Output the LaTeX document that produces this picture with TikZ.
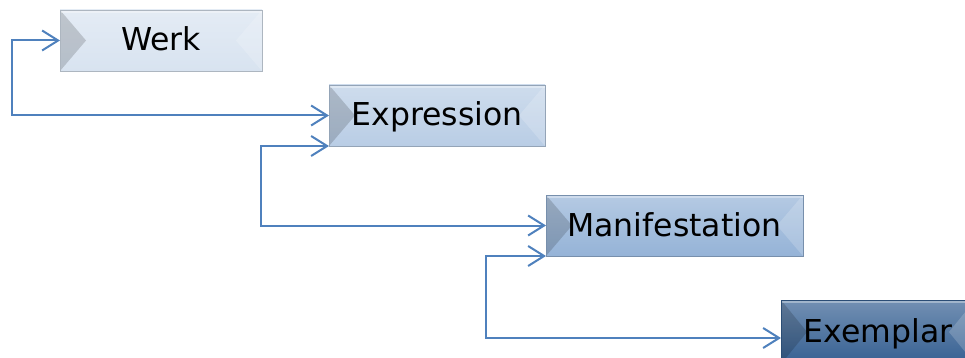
\documentclass[tikz,border=0pt]{standalone}
\usepackage{fontspec}
\newfontfamily\boxfont{DejaVu Sans}
\usetikzlibrary{arrows.meta}
\definecolor{cwerk}{HTML}{D8E3F0}
\definecolor{cexpr}{HTML}{B9CDE5}
\definecolor{cman}{HTML}{95B3D7}
\definecolor{cex}{HTML}{366092}
\definecolor{cline}{HTML}{4F81BD}
\tikzset{
  bev/.style 2 args={rectangle, minimum width=#1, minimum height=61pt, inner sep=0pt, outer sep=0pt,
    font=\boxfont\fontsize{31.5}{36}\selectfont, text=black, text height=21pt, text depth=0pt,
    draw=#2!80!black, line width=0.4pt,
    path picture={
      \fill[top color=#2!70!white, bottom color=#2] (path picture bounding box.north west) rectangle (path picture bounding box.south east);
      \fill[black, opacity=0.16] (path picture bounding box.north west) -- ([xshift=26pt]path picture bounding box.west) -- (path picture bounding box.south west) -- cycle;
      \fill[white, opacity=0.18] (path picture bounding box.north east) -- ([xshift=-26pt]path picture bounding box.east) -- (path picture bounding box.south east) -- cycle;
      \fill[white, opacity=0.35] (path picture bounding box.north west) rectangle ([yshift=-3pt]path picture bounding box.north east);
    }},
  conn/.style={draw=cline, line width=2pt, {Straight Barb[length=16pt,width=20pt]}-{Straight Barb[length=16pt,width=20pt]}}
}
\begin{document}
\begin{tikzpicture}[x=1pt,y=-1pt]
\useasboundingbox (0,0) rectangle (965,358);
\clip (0,0) rectangle (965,358);
\node[bev={202pt}{cwerk}] (werk) at (161,40.5) {Werk};
\node[bev={216pt}{cexpr}] (expr) at (437,115.5) {Expression};
\node[bev={257pt}{cman}] (man) at (674.5,225.5) {Manifestation};
\node[bev={194pt}{cex}, minimum height=64pt] (ex) at (878,332) {Exemplar};
\draw[conn] (werk.west) -- ++(-48,0) |- (expr.west);
\draw[conn] (expr.south west) -- ++(-68,0) |- (man.west);
\draw[conn] (man.south west) -- ++(-60,0) |- ([yshift=-6pt]ex.west);
\end{tikzpicture}
\end{document}
